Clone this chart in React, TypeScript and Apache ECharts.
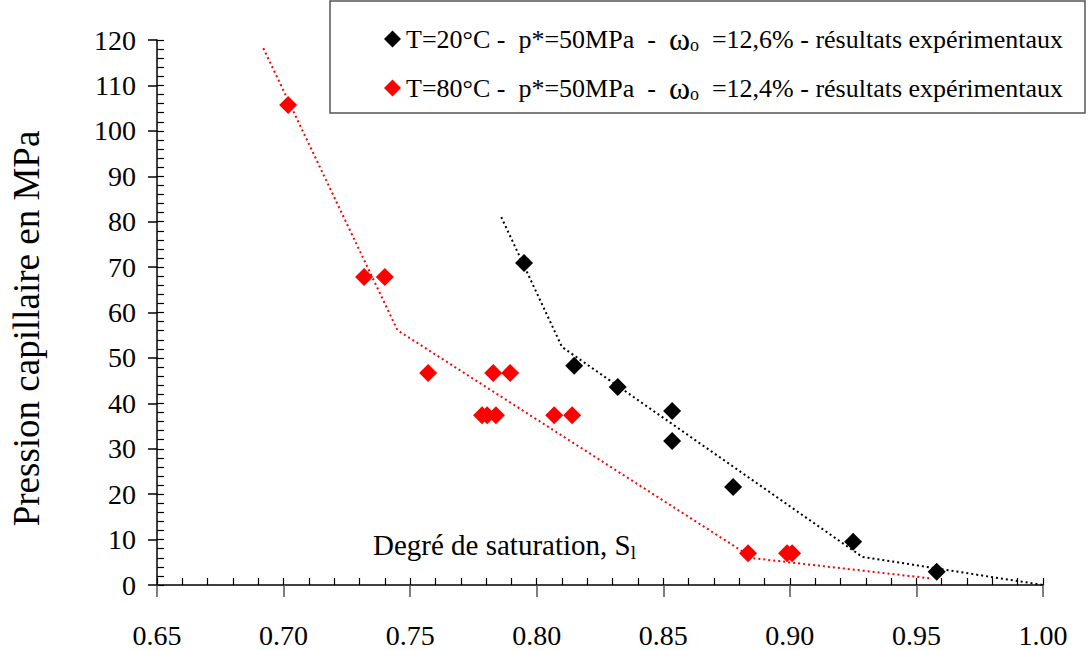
import React, { useEffect, useRef } from "react";
import * as echarts from "echarts";

// Saturation degree (x) and capillary pressure in MPa (y)
const black20X = [0.795, 0.8148, 0.832, 0.8535, 0.8535, 0.8776, 0.925, 0.958];
const black20Y = [70.9, 48.3, 43.6, 38.3, 31.7, 21.6, 9.5, 2.9];
const red80X = [0.7018, 0.7318, 0.74, 0.7571, 0.7784, 0.7804, 0.7839, 0.7828, 0.7895, 0.8069, 0.814, 0.8835, 0.8989, 0.9009];
const red80Y = [105.7, 67.8, 67.8, 46.7, 37.4, 37.4, 37.4, 46.7, 46.7, 37.4, 37.4, 7.0, 7.0, 7.0];

// Model curves (dotted)
const blackCurveX = [0.786, 0.81, 0.9286, 1.0];
const blackCurveY = [81, 52.4, 6.2, 0];
const redCurveX = [0.692, 0.745, 0.8855, 0.955];
const redCurveY = [118.2, 56.1, 5.9, 1.5];

const legendNames = [
  "T=20°C - p*=50MPa - ω0 =12,6% - résultats expérimentaux",
  "T=80°C - p*=50MPa - ω0 =12,4% - résultats expérimentaux",
];
const legendParts: Record<string, string[]> = {
  [legendNames[0]]: ["T=20°C -  p*=50MPa  -  ", "ω", "o", "  =12,6% - résultats expérimentaux"],
  [legendNames[1]]: ["T=80°C -  p*=50MPa  -  ", "ω", "o", "  =12,4% - résultats expérimentaux"],
};

const yAxisTitle = "Pression capillaire en MPa";
const xAxisTitle = "Degré de saturation, S";
const xAxisTitleSub = "l";

const FONT = "Liberation Serif";

function zip(xs: number[], ys: number[]) {
  return xs.map((x, i) => [x, ys[i]]);
}

export default function App() {
  const ref = useRef<HTMLDivElement>(null);
  useEffect(() => {
    if (!ref.current) return;
    const chart = echarts.init(ref.current, null, { renderer: "svg" });
    const grid = { left: 157, right: 49, top: 40, bottom: 65 };
    const xBase = { type: "value", min: 0.65, max: 1.0, position: "bottom", splitLine: { show: false } };
    const yBase = { type: "value", min: 0, max: 120, position: "left", splitLine: { show: false } };
    chart.setOption({
      animation: false,
      backgroundColor: "#fff",
      textStyle: { fontFamily: FONT },
      grid,
      xAxis: [
        {
          ...xBase,
          interval: 0.05,
          axisLine: { show: true, lineStyle: { color: "#000", width: 1.5 } },
          axisTick: { show: true, inside: false, length: 12, lineStyle: { color: "#555", width: 1.5 } },
          axisLabel: {
            show: true,
            margin: 36,
            color: "#000",
            fontFamily: FONT,
            fontSize: 28,
            formatter: (v: number) => v.toFixed(2),
          },
        },
        {
          ...xBase,
          interval: 0.01,
          axisLine: { show: false },
          axisTick: { show: true, inside: true, length: 7, lineStyle: { color: "#000", width: 1.2 } },
          axisLabel: { show: false },
        },
      ],
      yAxis: [
        {
          ...yBase,
          interval: 10,
          name: yAxisTitle,
          nameLocation: "middle",
          nameGap: 112,
          nameTextStyle: { color: "#000", fontFamily: FONT, fontSize: 37, padding: [0, 32, 0, 0] },
          axisLine: { show: true, lineStyle: { color: "#000", width: 1.5 } },
          axisTick: { show: true, inside: false, length: 9, lineStyle: { color: "#000", width: 1.5 } },
          axisLabel: { show: true, margin: 21, color: "#000", fontFamily: FONT, fontSize: 28 },
        },
        {
          ...yBase,
          interval: 2,
          axisLine: { show: false },
          axisTick: { show: true, inside: true, length: 7, lineStyle: { color: "#000", width: 1.2 } },
          axisLabel: { show: false },
        },
      ],
      legend: {
        show: true,
        orient: "vertical",
        left: 379,
        top: 18,
        itemGap: 17,
        itemWidth: 17,
        itemHeight: 17,
        icon: "diamond",
        data: legendNames,
        formatter: (name: string) => {
          const p = legendParts[name];
          return `{a|${p[0]}}{w|${p[1]}}{s|${p[2]}}{a|${p[3]}}`;
        },
        textStyle: {
          color: "#000",
          fontFamily: FONT,
          fontSize: 26,
          rich: {
            a: { fontFamily: FONT, fontSize: 26, color: "#000", lineHeight: 30 },
            w: { fontFamily: FONT, fontSize: 32, color: "#000", lineHeight: 30 },
            s: { fontFamily: FONT, fontSize: 18, color: "#000", lineHeight: 30, verticalAlign: "bottom" },
          },
        },
      },
      graphic: [
        {
          type: "rect",
          z: -1,
          shape: { x: 330, y: 1, width: 755, height: 112 },
          style: { fill: "none", stroke: "#555", lineWidth: 1.5 },
        },
        {
          type: "text",
          left: 373,
          top: 530,
          style: {
            text: `{a|${xAxisTitle}}{s|${xAxisTitleSub}}`,
            rich: {
              a: { fontFamily: FONT, fontSize: 29, fill: "#000", lineHeight: 34 },
              s: { fontFamily: FONT, fontSize: 19, fill: "#000", lineHeight: 34, verticalAlign: "bottom" },
            },
          },
        },
      ],
      series: [
        {
          name: legendNames[0],
          type: "scatter",
          xAxisIndex: 0,
          yAxisIndex: 0,
          symbol: "diamond",
          symbolSize: 18,
          itemStyle: { color: "#000", opacity: 1 },
          data: zip(black20X, black20Y),
          z: 5,
        },
        {
          name: legendNames[1],
          type: "scatter",
          xAxisIndex: 0,
          yAxisIndex: 0,
          symbol: "diamond",
          symbolSize: 18,
          itemStyle: { color: "#ff0000", opacity: 1 },
          data: zip(red80X, red80Y),
          z: 5,
        },
        {
          name: "courbe 20",
          type: "line",
          xAxisIndex: 0,
          yAxisIndex: 0,
          showSymbol: false,
          symbol: "none",
          lineStyle: { color: "#000", width: 2, type: [2, 3] },
          data: zip(blackCurveX, blackCurveY),
          z: 3,
        },
        {
          name: "courbe 80",
          type: "line",
          xAxisIndex: 0,
          yAxisIndex: 0,
          showSymbol: false,
          symbol: "none",
          lineStyle: { color: "#ff0000", width: 2, type: [2, 3] },
          data: zip(redCurveX, redCurveY),
          z: 3,
        },
      ],
    });
    return () => chart.dispose();
  }, []);
  return (
    <div
      ref={ref}
      style={{ position: "fixed", left: 0, top: 0, width: 1092, height: 650, background: "#fff" }}
    />
  );
}
